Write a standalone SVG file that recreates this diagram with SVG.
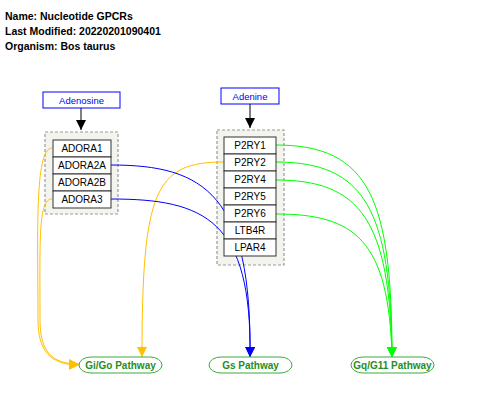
<svg xmlns="http://www.w3.org/2000/svg" width="480" height="400" viewBox="0 0 480 400">
<defs>
<style>
.title{font-family:"Liberation Sans",Arial,sans-serif;font-size:10.5px;font-weight:bold;fill:#000}
.grp{fill:#f4f4ee;stroke:#999;stroke-width:1.2;stroke-dasharray:3,2}
.node rect{fill:#fff;stroke:#333;stroke-width:1}
.node text{font-family:"Liberation Sans",Arial,sans-serif;font-size:10px;fill:#000;text-anchor:middle}
.lbl rect{fill:#fff;stroke:#0000ff;stroke-width:1}
.lbl text{font-family:"Liberation Sans",Arial,sans-serif;font-size:9.5px;fill:#0000ff;text-anchor:middle}
.pw rect{fill:#fff;stroke:#3daa3d;stroke-width:1}
.pw text{font-family:"Liberation Sans",Arial,sans-serif;font-size:10px;font-weight:bold;fill:#1f8f1f;text-anchor:middle}
.c{fill:none;stroke-width:1}
.or{stroke:#ffc000}
.bl{stroke:#0000ff}
.gr{stroke:#00ff00}
.bk{stroke:#000}
</style>
<marker id="aBk" markerWidth="10" markerHeight="10" refX="10" refY="5" orient="auto" markerUnits="userSpaceOnUse"><path d="M0,0 L10,5 L0,10 z" fill="#000"/></marker>
<marker id="aOr" markerWidth="10" markerHeight="10" refX="10" refY="5" orient="auto" markerUnits="userSpaceOnUse"><path d="M0,0 L10,5 L0,10 z" fill="#ffc000"/></marker>
<marker id="aBl" markerWidth="10" markerHeight="10" refX="10" refY="5" orient="auto" markerUnits="userSpaceOnUse"><path d="M0,0 L10,5 L0,10 z" fill="#0000ff"/></marker>
<marker id="aGr" markerWidth="10" markerHeight="10" refX="10" refY="5" orient="auto" markerUnits="userSpaceOnUse"><path d="M0,0 L10,5 L0,10 z" fill="#00ff00"/></marker>
</defs>
<rect width="480" height="400" fill="#fff"/>
<g id="header">
<text class="title" x="5" y="20">Name: Nucleotide GPCRs</text>
<text class="title" x="5" y="35">Last Modified: 20220201090401</text>
<text class="title" x="5" y="50">Organism: Bos taurus</text>
</g>
<g id="groups">
<rect id="grpAdenosine" class="grp" x="45" y="132" width="73" height="82"/>
<rect id="grpAdenine" class="grp" x="217" y="130" width="67" height="135"/>
</g>
<g id="connectors">
<path class="c bk" d="M81,108 L81,130" marker-end="url(#aBk)"/>
<path class="c bk" d="M250,104 L250,128" marker-end="url(#aBk)"/>
<path class="c or" d="M52,148 C34,148 38,240 38,320 C38,350 50,365 79,365" marker-end="url(#aOr)"/>
<path class="c or" d="M52,199 C38,199 40,240 40,320 C40,352 52,364 79,364" marker-end="url(#aOr)"/>
<path class="c or" d="M224,162 C155,162 142,190 142,357" marker-end="url(#aOr)"/>
<path class="c bl" d="M111,165 C205,165 252,195 250,357" marker-end="url(#aBl)"/>
<path class="c bl" d="M111,199 C205,199 252,220 250,357" marker-end="url(#aBl)"/>
<path class="c gr" d="M276,145 C370,145 392,200 392,357" marker-end="url(#aGr)"/>
<path class="c gr" d="M276,162 C365,162 391,210 392,357" marker-end="url(#aGr)"/>
<path class="c gr" d="M276,180 C360,180 390,220 392,357" marker-end="url(#aGr)"/>
<path class="c gr" d="M276,214 C355,214 389,240 392,357" marker-end="url(#aGr)"/>
</g>
<g id="Adenosine" class="lbl"><rect x="43" y="92" width="77" height="16"/><text x="81.5" y="103.5">Adenosine</text></g>
<g id="Adenine" class="lbl"><rect x="221" y="88" width="58" height="16"/><text x="250" y="99.5">Adenine</text></g>
<g id="ADORA1" class="node"><rect x="53" y="140" width="58" height="17"/><text x="82" y="152">ADORA1</text></g>
<g id="ADORA2A" class="node"><rect x="53" y="157" width="58" height="17"/><text x="82" y="169">ADORA2A</text></g>
<g id="ADORA2B" class="node"><rect x="53" y="174" width="58" height="17"/><text x="82" y="186">ADORA2B</text></g>
<g id="ADORA3" class="node"><rect x="53" y="191" width="58" height="17"/><text x="82" y="203">ADORA3</text></g>
<g id="P2RY1" class="node"><rect x="224" y="137" width="52" height="17"/><text x="250" y="149">P2RY1</text></g>
<g id="P2RY2" class="node"><rect x="224" y="154" width="52" height="17"/><text x="250" y="166">P2RY2</text></g>
<g id="P2RY4" class="node"><rect x="224" y="171" width="52" height="17"/><text x="250" y="183">P2RY4</text></g>
<g id="P2RY5" class="node"><rect x="224" y="188" width="52" height="17"/><text x="250" y="200">P2RY5</text></g>
<g id="P2RY6" class="node"><rect x="224" y="205" width="52" height="17"/><text x="250" y="217">P2RY6</text></g>
<g id="LTB4R" class="node"><rect x="224" y="222" width="52" height="17"/><text x="250" y="234">LTB4R</text></g>
<g id="LPAR4" class="node"><rect x="224" y="239" width="52" height="17"/><text x="250" y="251">LPAR4</text></g>
<g id="GiGo" class="pw"><rect x="79" y="357" width="83" height="16" rx="12" ry="8"/><text x="120.5" y="368.5">Gi/Go Pathway</text></g>
<g id="Gs" class="pw"><rect x="209" y="357" width="83" height="16" rx="12" ry="8"/><text x="250.5" y="368.5">Gs Pathway</text></g>
<g id="GqG11" class="pw"><rect x="351" y="357" width="83" height="16" rx="12" ry="8"/><text x="392.5" y="368.5">Gq/G11 Pathway</text></g>
</svg>
